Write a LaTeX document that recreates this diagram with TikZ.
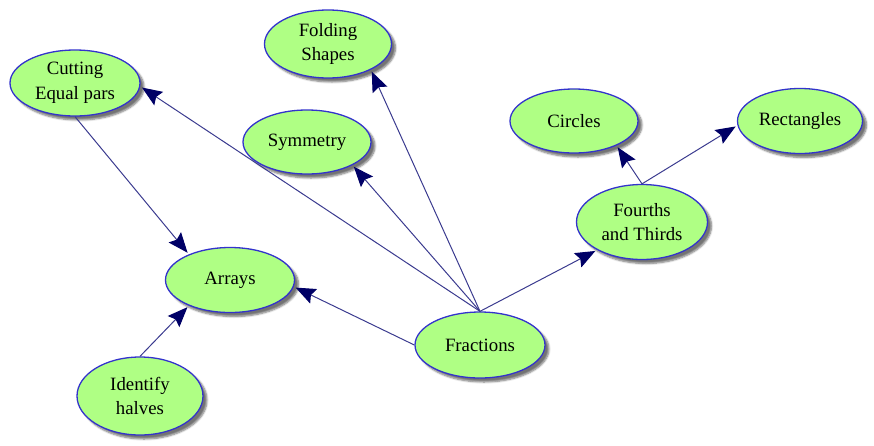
\documentclass[tikz,border=0pt]{standalone}
\usepackage{fontspec}
\setmainfont{Liberation Serif}
\usetikzlibrary{shapes.geometric,arrows.meta,shadows.blur}
\definecolor{nodefill}{HTML}{AFFF84}
\definecolor{nodeedge}{HTML}{3333CC}
\definecolor{linkcol}{HTML}{3B3B8F}
\definecolor{tipcol}{HTML}{000066}
\tikzset{
  topic/.style={ellipse, draw=nodeedge, line width=1.3pt, fill=nodefill,
    inner sep=0pt, align=center, font=\fontsize{18.8}{24.5}\selectfont,
    blur shadow={shadow xshift=4pt, shadow yshift=-4pt, shadow blur steps=6, shadow opacity=55}},
  link/.style={draw=linkcol, line width=1pt, shorten >=2pt,
    -{Stealth[length=20pt,width=16pt,inset=3pt,color=tipcol,fill=tipcol]}}
}
\begin{document}
\begin{tikzpicture}[x=1pt,y=-1pt]
\useasboundingbox (0,0) rectangle (874,445);
\node[topic, minimum width=130pt, minimum height=66pt] (cut) at (75,83) {Cutting\\Equal pars};
\node[topic, minimum width=127pt, minimum height=68pt] (fold) at (328,44) {Folding\\Shapes};
\node[topic, minimum width=128pt, minimum height=64pt] (sym) at (307,142) {Symmetry};
\node[topic, minimum width=128pt, minimum height=64pt] (circ) at (574,121) {Circles};
\node[topic, minimum width=125pt, minimum height=65pt] (rect) at (800,121) {Rectangles};
\node[topic, minimum width=131pt, minimum height=75pt] (fourth) at (642,222) {Fourths\\and Thirds};
\node[topic, minimum width=129pt, minimum height=65pt] (arr) at (230,280) {Arrays};
\node[topic, minimum width=130pt, minimum height=66pt] (frac) at (480,345) {Fractions};
\node[topic, minimum width=126pt, minimum height=78pt] (ident) at (140,396) {Identify\\halves};

\draw[link] (frac.north) -- (cut.-3);
\draw[link] (frac.north) -- (fold.-31);
\draw[link] (frac.north) -- (sym.-27);
\draw[link] (frac.west) -- (arr.-6);
\draw[link] (frac.north) -- (fourth.212);
\draw[link] (cut.south) -- (arr.148);
\draw[link] (ident.north) -- (arr.212);
\draw[link] (fourth.north) -- (circ.-30);
\draw[link] (fourth.north) -- (rect.184);
\end{tikzpicture}
\end{document}
